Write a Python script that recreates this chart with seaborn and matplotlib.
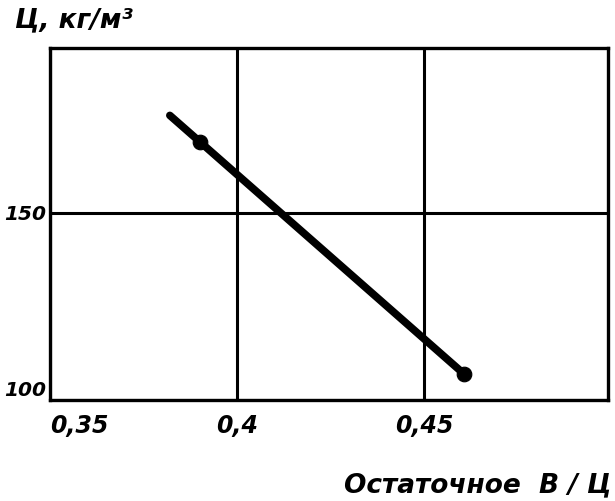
import matplotlib
matplotlib.use("Agg")
import matplotlib.pyplot as plt
import seaborn as sns
import pandas as pd
from matplotlib import font_manager

# Data
line_x = [0.382, 0.4605]
line_y = [176, 107]
point_x = [0.390, 0.4605]
point_y = [169, 107]
x_ticks = [0.35, 0.40, 0.45]
x_tick_labels = ["0,35", "0,4", "0,45"]
y_ticks = [100, 150]
y_tick_labels = ["100", "150"]
x_title = "Остаточное  В / Ц"
y_title = "Ц, кг/м³"

sns.set_style("white")
plt.rcParams["font.family"] = ["DejaVu Sans"]

fig = plt.figure(figsize=(6.15, 5.01), dpi=100)
ax = fig.add_axes([50/615, 1-400/501, 558/615, 352/501])

df_line = pd.DataFrame({"x": line_x, "y": line_y})
df_pts = pd.DataFrame({"x": point_x, "y": point_y})
sns.lineplot(data=df_line, x="x", y="y", ax=ax, color="black", linewidth=5.5,
             solid_capstyle="round", zorder=3)
sns.scatterplot(data=df_pts, x="x", y="y", ax=ax, color="black", s=110,
                edgecolor="black", zorder=4)

ax.set_xlim(0.35, 0.499)
ax.set_ylim(100, 194)
ax.set_xticks(x_ticks)
ax.set_yticks(y_ticks)
ax.set_xticklabels(x_tick_labels, fontsize=17, fontweight="bold", fontstyle="italic", color="black")
ax.set_yticklabels(y_tick_labels, fontsize=14.5, fontweight="bold", fontstyle="italic", color="black")
ax.get_xticklabels()[0].set_horizontalalignment("left")
ax.get_yticklabels()[0].set_verticalalignment("bottom")
ax.tick_params(axis="x", length=0, pad=10)
ax.tick_params(axis="y", length=0, pad=3)
ax.grid(True, color="black", linewidth=2.2)
ax.set_axisbelow(True)
for s in ax.spines.values():
    s.set_color("black")
    s.set_linewidth(2.4)
    s.set_visible(True)
ax.set_xlabel("")
ax.set_ylabel("")

fig.text(0.995, 0.005, x_title, ha="right", va="bottom", fontsize=19,
         fontweight="bold", fontstyle="italic", color="black")
fig.text(0.025, 0.985, y_title, ha="left", va="top", fontsize=19,
         fontweight="bold", fontstyle="italic", color="black")

fig.savefig("out.png", dpi=100)
